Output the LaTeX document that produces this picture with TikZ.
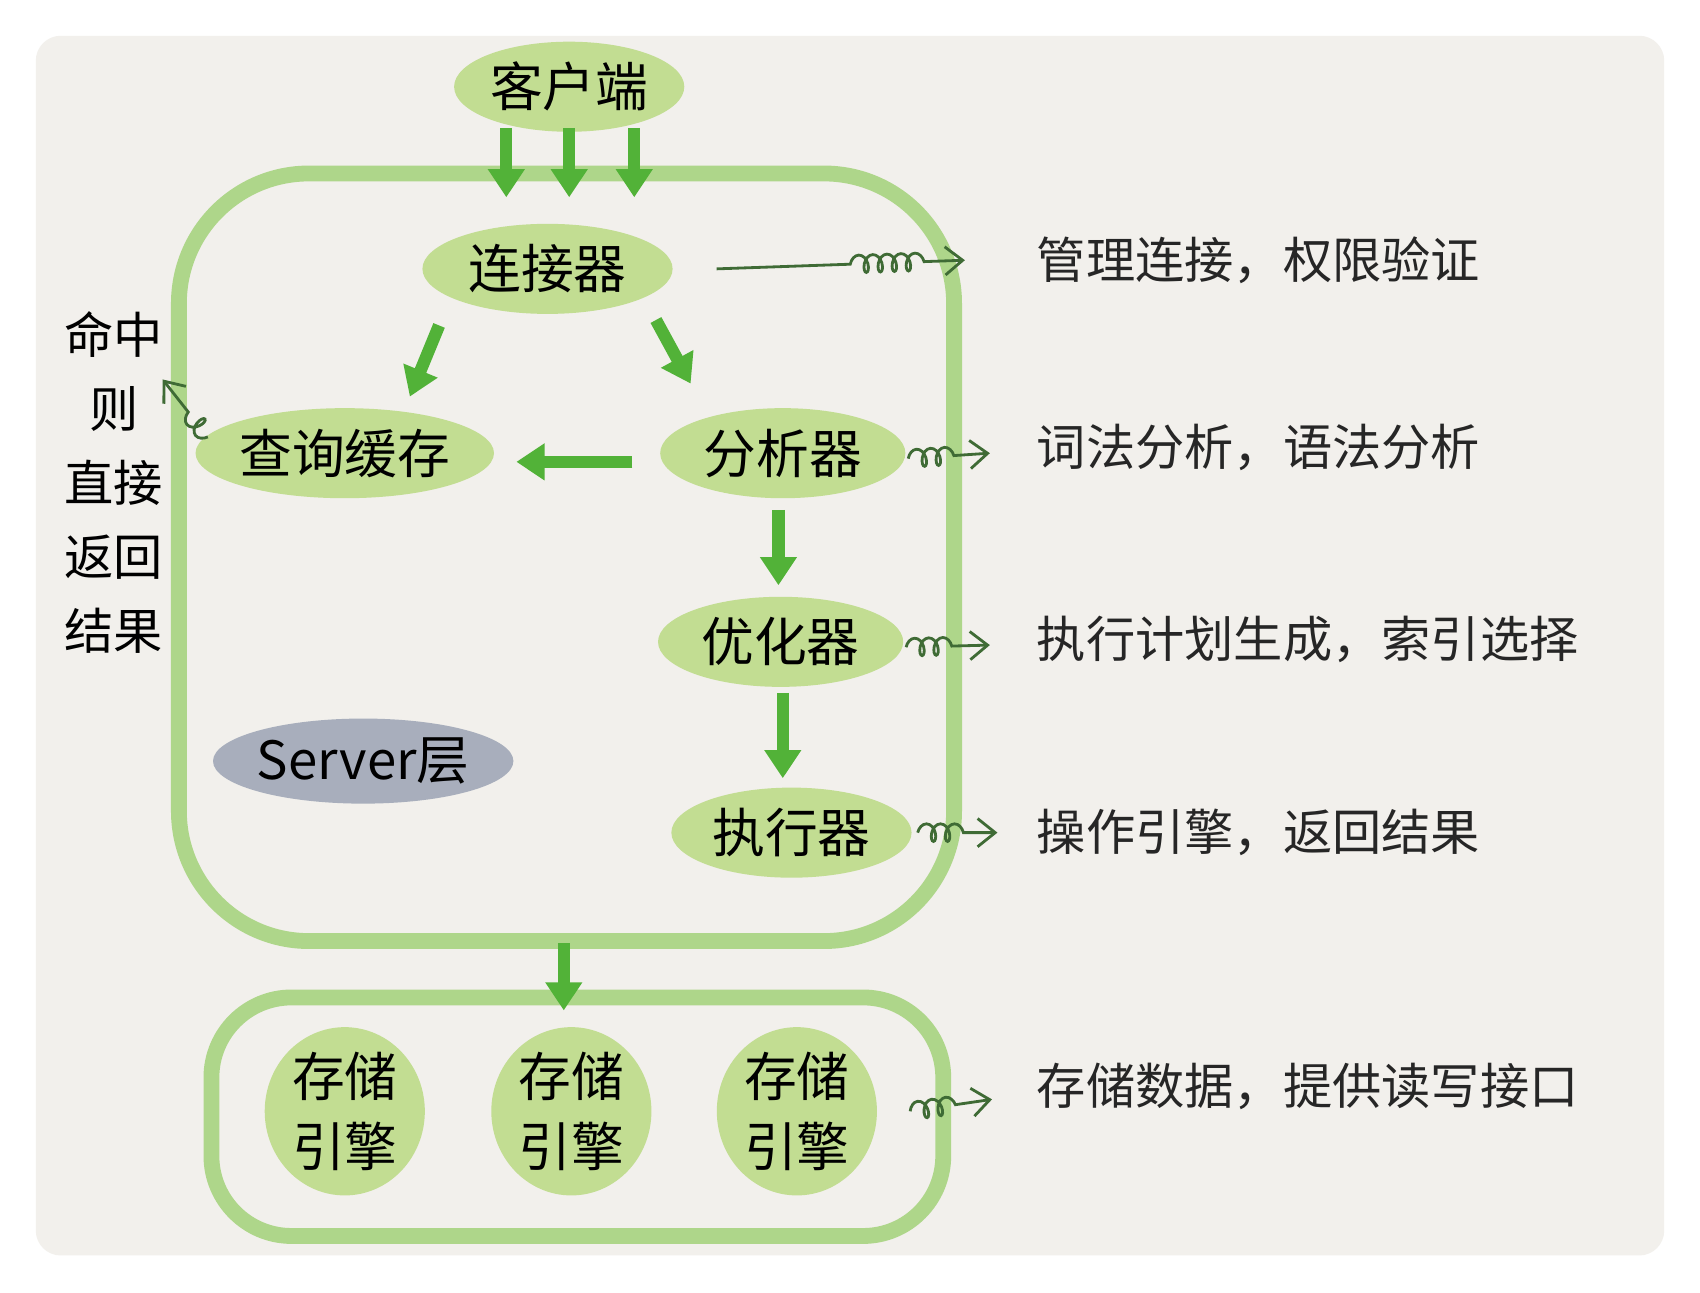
\documentclass[tikz,border=0pt]{standalone}
\usepackage{fontspec}
\setmainfont{Noto Sans CJK SC}
\usetikzlibrary{shapes.geometric,arrows.meta,decorations.pathmorphing,calc}
\definecolor{cardbg}{HTML}{F2F0EC}
\definecolor{boxfill}{HTML}{C2DD92}
\definecolor{boxline}{HTML}{AED68A}
\definecolor{arrowgreen}{HTML}{52B238}
\definecolor{notegreen}{HTML}{3F6B35}
\definecolor{servergray}{HTML}{A8AEBC}
\tikzset{
    part/.style={ellipse, fill=boxfill, minimum width=#1, minimum height=0.9cm, inner sep=0pt, font=\fontsize{15}{18}\selectfont},
    part/.default=2.4cm,
    flow/.style={-{Triangle[width=10pt,length=8pt]}, line width=3.5pt, arrowgreen},
    note/.style={-{Straight Barb[width=8pt,length=5pt]}, thick, notegreen, decorate,
        decoration={coil, aspect=0.6, segment length=4pt, amplitude=2.5pt, pre length=0pt, post length=9pt}},
    notetext/.style={anchor=west, font=\fontsize{14}{16}\selectfont, text=black!85},
}
\begin{document}
\begin{tikzpicture}[x=0.01084cm, y=-0.01084cm]
    \useasboundingbox (0,0) rectangle (1568,1192);
    \fill[white] (0,0) rectangle (1568,1192);
    \fill[cardbg, rounded corners=0.25cm] (33,33) rectangle (1535,1158);
    % server layer
    \draw[boxline, line width=4.5pt, rounded corners=1.3cm] (165,160) rectangle (880,868);
    \draw[boxline, line width=4.5pt, rounded corners=0.8cm] (195,920) rectangle (870,1140);
    \node[part=2.3cm] (client) at (525,80) {客户端};
    \node[part=2.5cm] (conn) at (505,248) {连接器};
    \node[part=2.45cm] (cache) at (318,418) {查询缓存};
    \node[part=2.45cm] (parser) at (722,418) {分析器};
    \node[part=2.45cm] (opt) at (720,592) {优化器};
    \node[part=2.4cm] (exec) at (730,768) {执行器};
    \node[ellipse, fill=servergray, minimum width=2.45cm, minimum height=0.85cm, inner sep=0pt, font=\fontsize{15}{18}\selectfont] (server) at (335,702) {Server层};
    % engines
    \foreach \x/\n in {318/a, 527/b, 735/c}
        \node[ellipse, fill=boxfill, minimum width=1.6cm, minimum height=1.55cm, inner sep=0pt, align=center, font=\fontsize{15}{20}\selectfont] (engine\n) at (\x,1025) {存储\\引擎};
    % client arrows
    \foreach \x in {467,525,585} {
        \coordinate (in\x) at (\x,182);
        \draw[flow] (\x,118) -- (in\x);
    }
    \draw[flow] ($(conn.south)+(-100,10)$) -- ($(cache.north)+(60,-10)$);
    \draw[flow] ($(conn.south)+(100,5)$) -- ($(parser.north)+(-85,-22)$);
    \draw[flow] ($(parser.west)+(-25,8)$) -- ($(cache.east)+(20,8)$);
    \draw[flow] ($(parser.south)+(-4,10)$) -- ($(opt.north)+(-2,-10)$);
    \draw[flow] ($(opt.south)+(2,5)$) -- ($(exec.north)+(-8,-8)$);
    \coordinate (serverbot) at (520,870);
    \coordinate (storetop) at (520,932);
    \draw[flow] (serverbot) -- (storetop);
    % hit text
    \node[align=center, font=\fontsize{14}{21}\selectfont] (hit) at (105,445) {命中\\则\\直接\\返回\\结果};
    \coordinate (hitend) at (150,350);
    \draw[note] ($(cache.west)+(12,-15)$) -- (hitend);
    % notes
    \node[notetext] (n1) at (945,240) {管理连接，权限验证};
    \node[notetext] (n2) at (945,413) {词法分析，语法分析};
    \node[notetext] (n3) at (945,590) {执行计划生成，索引选择};
    \node[notetext] (n4) at (945,768) {操作引擎，返回结果};
    \node[notetext] (n5) at (945,1002) {存储数据，提供读写接口};
    \draw[note, decoration={pre length=38pt}] ($(conn.east)+(40,0)$) -- ($(n1.west)+(-55,0)$);
    \draw[note] ($(parser.east)+(2,5)$) -- ($(n2.west)+(-32,5)$);
    \draw[note] ($(opt.east)+(2,5)$) -- ($(n3.west)+(-32,5)$);
    \draw[note] ($(exec.east)+(5,0)$) -- ($(n4.west)+(-25,0)$);
    \draw[note] ($(enginec.east)+(30,0)$) -- ($(n5.west)+(-30,12)$);
\end{tikzpicture}
\end{document}
